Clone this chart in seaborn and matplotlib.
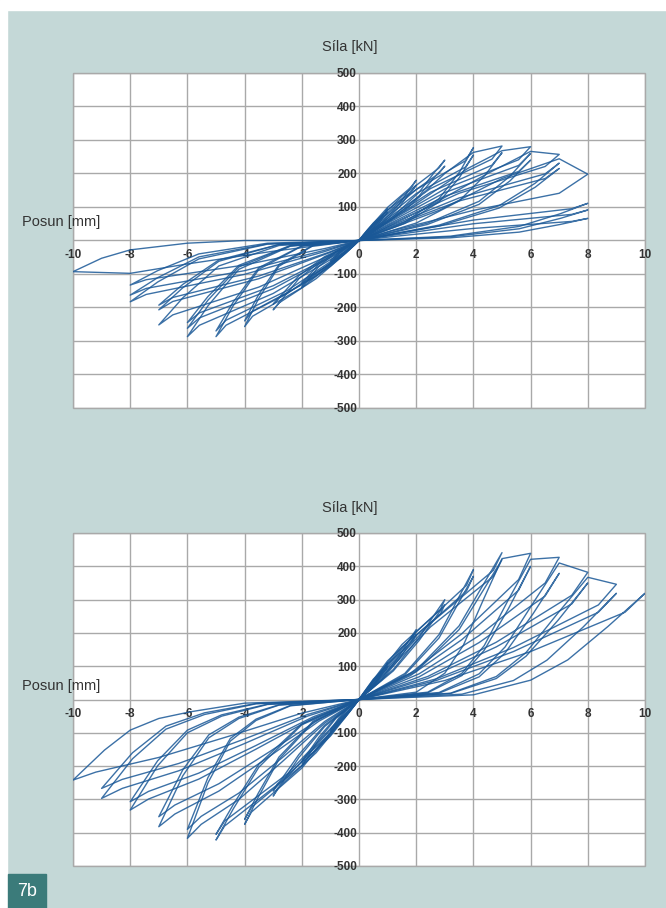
import matplotlib
matplotlib.use("Agg")
import matplotlib.pyplot as plt
from matplotlib.patches import Rectangle
import pandas as pd
import seaborn as sns

# -- data (displacement mm / force kN, one list per loading cycle) -----------

X_TICKS = [-10, -8, -6, -4, -2, 0, 2, 4, 6, 8, 10]
X_LABELS = ["-10", "-8", "-6", "-4", "-2", "0", "2", "4", "6", "8", "10"]
Y_TICKS = [-500, -400, -300, -200, -100, 0, 100, 200, 300, 400, 500]
Y_LABELS = ["-500", "-400", "-300", "-200", "-100", "", "100", "200", "300", "400", "500"]

FORCE_LABEL = "Síla [kN]"
DISP_LABEL = "Posun [mm]"
FIG_TAG = "7b"

TOP_DISP = [
    [0, 0.4, 0.7, 0.88, 1, 0.93, 0.5, 0.15, 0, -0.4, -0.7, -0.88, -1, -0.93, -0.5, -0.15, 0],
    [0, 0.4, 0.7, 0.88, 1, 0.93, 0.5, 0.15, 0, -0.4, -0.7, -0.88, -1, -0.93, -0.5, -0.15, 0],
    [0, 0.8, 1.4, 1.76, 2, 1.86, 1.0, 0.3, 0, -0.8, -1.4, -1.76, -2, -1.86, -1.0, -0.3, 0],
    [0, 0.8, 1.4, 1.76, 2, 1.86, 1.0, 0.3, 0, -0.8, -1.4, -1.76, -2, -1.86, -1.0, -0.3, 0],
    [0, 1.2, 2.1, 2.64, 3, 2.79, 1.5, 0.45, 0, -1.2, -2.1, -2.64, -3, -2.79, -1.5, -0.45, 0],
    [0, 1.2, 2.1, 2.64, 3, 2.79, 1.5, 0.45, 0, -1.2, -2.1, -2.64, -3, -2.79, -1.5, -0.45, 0],
    [0, 1.6, 2.8, 3.52, 4, 3.72, 2.0, 0.6, 0, -1.6, -2.8, -3.52, -4, -3.72, -2.0, -0.6, 0],
    [0, 1.6, 2.8, 3.52, 4, 3.72, 2.0, 0.6, 0, -1.6, -2.8, -3.52, -4, -3.72, -2.0, -0.6, 0],
    [0, 1.6, 3.0, 4.0, 5, 4.65, 2.5, 0.75, 0, -2.0, -3.5, -4.4, -5, -4.65, -2.5, -0.75, 0],
    [0, 2.0, 3.5, 4.4, 5, 4.65, 2.5, 0.75, 0, -2.0, -3.5, -4.4, -5, -4.65, -2.5, -0.75, 0],
    [0, 2.0, 3.8, 5.0, 6, 5.58, 3.0, 0.9, 0, -2.4, -4.2, -5.28, -6, -5.58, -3.0, -0.9, 0],
    [0, 2.4, 4.2, 5.28, 6, 5.58, 3.0, 0.9, 0, -2.4, -4.2, -5.28, -6, -5.58, -3.0, -0.9, 0],
    [0, 2.4, 4.2, 5.28, 6, 5.58, 3.0, 0.9, 0, -2.4, -4.2, -5.28, -6, -5.58, -3.0, -0.9, 0],
    [0, 2.4, 4.5, 6.0, 7, 6.51, 3.5, 1.05, 0, -2.8, -4.9, -6.16, -7, -6.51, -3.5, -1.05, 0],
    [0, 2.8, 4.9, 6.16, 7, 6.51, 3.5, 1.05, 0, -2.8, -4.9, -6.16, -7, -6.51, -3.5, -1.05, 0],
    [0, 2.8, 4.9, 6.16, 7, 6.51, 3.5, 1.05, 0, -2.8, -4.9, -6.16, -7, -6.51, -3.5, -1.05, 0],
    [0, 2.8, 5.0, 7.0, 8, 7.0, 4.0, 1.2, 0, -3.2, -5.6, -7.04, -8, -7.44, -4.0, -1.2, 0],
    [0, 3.2, 5.6, 7.04, 8, 7.44, 4.0, 1.2, 0, -3.2, -5.6, -7.04, -8, -7.44, -4.0, -1.2, 0],
    [0, 3.2, 5.6, 7.04, 8, 7.44, 4.0, 1.2, 0, -3.2, -5.6, -7.04, -8, -7.44, -4.0, -1.2, 0],
    [0, 3.2, 5.6, 7.04, 8, 7.44, 4.0, 1.2, 0, -4, -6, -8, -9, -10, -8, -6, -3, 0],
]
TOP_FORCE = [
    [0, 29, 57, 81, 95, 86, 52, 17, 0, -18, -39, -57, -70, -63, -39, -13, 0],
    [0, 26, 51, 72, 85, 77, 47, 15, 0, -16, -34, -51, -62, -56, -34, -11, 0],
    [0, 54, 108, 153, 180, 162, 99, 32, 0, -35, -77, -115, -140, -126, -77, -25, 0],
    [0, 50, 99, 140, 165, 149, 91, 30, 0, -32, -70, -105, -128, -115, -70, -23, 0],
    [0, 72, 144, 204, 240, 216, 132, 43, 0, -52, -114, -170, -207, -186, -114, -37, 0],
    [0, 67, 133, 189, 222, 200, 122, 40, 0, -48, -105, -156, -190, -171, -105, -34, 0],
    [0, 55, 125, 205, 277, 238, 152, 50, 0, -15, -77, -175, -257, -226, -141, -46, 0],
    [0, 51, 115, 189, 255, 219, 140, 46, 0, -14, -72, -163, -240, -211, -132, -43, 0],
    [0, 90, 200, 263, 282, 243, 155, 51, 0, -17, -86, -195, -287, -253, -158, -52, 0],
    [0, 52, 118, 194, 262, 225, 144, 47, 0, -16, -81, -184, -270, -238, -149, -49, 0],
    [0, 110, 215, 268, 280, 241, 154, 50, 0, -17, -86, -195, -287, -253, -158, -52, 0],
    [0, 52, 117, 192, 260, 224, 143, 47, 0, -16, -79, -178, -262, -231, -144, -47, 0],
    [0, 48, 108, 178, 240, 206, 132, 43, 0, -15, -74, -167, -245, -216, -135, -44, 0],
    [0, 100, 200, 266, 257, 221, 141, 46, 0, -15, -76, -171, -252, -222, -139, -45, 0],
    [0, 46, 104, 171, 231, 199, 127, 42, 0, -12, -62, -141, -207, -182, -114, -37, 0],
    [0, 43, 97, 159, 215, 185, 118, 39, 0, -12, -58, -131, -193, -170, -106, -35, 0],
    [0, 90, 185, 244, 198, 141, 90, 30, 0, -11, -55, -124, -183, -161, -101, -33, 0],
    [0, 13, 42, 80, 111, 95, 61, 20, 0, -10, -49, -111, -163, -143, -90, -29, 0],
    [0, 11, 35, 66, 91, 78, 50, 16, 0, -8, -40, -90, -133, -117, -73, -24, 0],
    [0, 8, 25, 48, 66, 57, 36, 12, 0, 0, -8, -28, -53, -93, -98, -70, -32, 0],
]

BOTTOM_DISP = [
    [0, 0.4, 0.7, 0.88, 1, 0.95, 0.5, 0.15, 0, -0.4, -0.7, -0.88, -1, -0.95, -0.5, -0.15, 0],
    [0, 0.4, 0.7, 0.88, 1, 0.95, 0.5, 0.15, 0, -0.4, -0.7, -0.88, -1, -0.95, -0.5, -0.15, 0],
    [0, 0.8, 1.4, 1.76, 2, 1.9, 1.0, 0.3, 0, -0.8, -1.4, -1.76, -2, -1.9, -1.0, -0.3, 0],
    [0, 0.8, 1.4, 1.76, 2, 1.9, 1.0, 0.3, 0, -0.8, -1.4, -1.76, -2, -1.9, -1.0, -0.3, 0],
    [0, 1.2, 2.1, 2.64, 3, 2.85, 1.5, 0.45, 0, -1.2, -2.1, -2.64, -3, -2.85, -1.5, -0.45, 0],
    [0, 1.2, 2.1, 2.64, 3, 2.85, 1.5, 0.45, 0, -1.2, -2.1, -2.64, -3, -2.85, -1.5, -0.45, 0],
    [0, 1.6, 2.8, 3.52, 4, 3.76, 2.0, 0.6, 0, -1.6, -2.8, -3.52, -4, -3.76, -2.0, -0.6, 0],
    [0, 1.6, 2.8, 3.52, 4, 3.76, 2.0, 0.6, 0, -1.6, -2.8, -3.52, -4, -3.76, -2.0, -0.6, 0],
    [0, 2.0, 3.5, 4.4, 5, 4.7, 2.5, 0.75, 0, -2.0, -3.5, -4.4, -5, -4.7, -2.5, -0.75, 0],
    [0, 2.0, 3.5, 4.4, 5, 4.7, 2.5, 0.75, 0, -2.0, -3.5, -4.4, -5, -4.7, -2.5, -0.75, 0],
    [0, 2.0, 3.0, 3.65, 4.35, 5, 6, 5.58, 3.6, 1.8, 0, -2.4, -3.6, -4.5, -5.28, -6, -5.52, -4.2, -2.7, -1.2, 0],
    [0, 2.4, 3.6, 4.38, 5.22, 6, 5.58, 3.6, 1.8, 0, -2.4, -3.6, -4.5, -5.28, -6, -5.52, -4.2, -2.7, -1.2, 0],
    [0, 2.4, 3.6, 4.38, 5.22, 6, 7, 6.51, 4.2, 2.1, 0, -2.8, -4.2, -5.25, -6.16, -7, -6.44, -4.9, -3.15, -1.4, 0],
    [0, 2.8, 4.2, 5.11, 6.09, 7, 6.51, 4.2, 2.1, 0, -2.8, -4.2, -5.25, -6.16, -7, -6.44, -4.9, -3.15, -1.4, 0],
    [0, 2.8, 4.2, 5.11, 6.09, 7, 8, 7.44, 4.8, 2.4, 0, -3.2, -4.8, -6.0, -7.04, -8, -7.36, -5.6, -3.6, -1.6, 0],
    [0, 3.2, 4.8, 5.84, 6.96, 8, 7.44, 4.8, 2.4, 0, -3.2, -4.8, -6.0, -7.04, -8, -7.36, -5.6, -3.6, -1.6, 0],
    [0, 3.2, 4.8, 5.84, 6.96, 8, 9, 8.37, 5.4, 2.7, 0, -3.6, -5.4, -6.75, -7.92, -9, -8.28, -6.3, -4.05, -1.8, 0],
    [0, 3.6, 5.4, 6.57, 7.83, 9, 8.37, 5.4, 2.7, 0, -3.6, -5.4, -6.75, -7.92, -9, -8.28, -6.3, -4.05, -1.8, 0],
    [0, 4.0, 6.0, 7.3, 8.7, 10, 9.3, 6.0, 3.0, 0, -4, -5.9, -7, -8, -8.9, -10, -9.2, -7, -4.5, -2, 0],
]
BOTTOM_FORCE = [
    [0, 33, 68, 94, 110, 99, 61, 19, 0, -28, -60, -84, -100, -92, -55, -17, 0],
    [0, 30, 62, 85, 100, 90, 55, 17, 0, -26, -55, -77, -92, -85, -51, -16, 0],
    [0, 63, 130, 179, 210, 189, 116, 36, 0, -56, -120, -168, -200, -184, -110, -34, 0],
    [0, 59, 121, 166, 195, 176, 107, 33, 0, -53, -113, -158, -188, -173, -103, -32, 0],
    [0, 90, 186, 255, 300, 270, 165, 51, 0, -81, -174, -244, -290, -267, -160, -49, 0],
    [0, 86, 177, 242, 285, 257, 157, 48, 0, -77, -165, -231, -275, -253, -151, -47, 0],
    [0, 78, 195, 312, 390, 343, 203, 59, 0, -68, -180, -293, -375, -338, -206, -60, 0],
    [0, 74, 185, 296, 370, 326, 192, 56, 0, -65, -173, -281, -360, -324, -198, -58, 0],
    [0, 88, 221, 353, 441, 388, 229, 66, 0, -76, -203, -329, -422, -380, -232, -68, 0],
    [0, 84, 210, 336, 420, 370, 218, 63, 0, -73, -194, -316, -405, -365, -223, -65, 0],
    [0, 22, 79, 163, 300, 423, 439, 360, 198, 79, 0, -19, -63, -125, -250, -417, -375, -300, -188, -71, 0],
    [0, 20, 72, 148, 272, 400, 328, 180, 72, 0, -18, -59, -117, -234, -390, -351, -281, -176, -66, 0],
    [0, 22, 79, 162, 299, 421, 427, 350, 192, 77, 0, -17, -57, -115, -229, -382, -344, -275, -172, -65, 0],
    [0, 19, 68, 140, 258, 379, 311, 171, 68, 0, -16, -53, -106, -211, -352, -317, -253, -158, -60, 0],
    [0, 21, 77, 158, 290, 410, 382, 313, 172, 69, 0, -15, -50, -100, -199, -332, -299, -239, -149, -56, 0],
    [0, 18, 63, 130, 238, 350, 287, 158, 63, 0, -14, -46, -92, -184, -307, -276, -221, -138, -52, 0],
    [0, 19, 69, 141, 260, 367, 346, 284, 156, 62, 0, -13, -45, -89, -178, -297, -267, -214, -134, -50, 0],
    [0, 16, 57, 118, 217, 319, 262, 144, 57, 0, -12, -40, -80, -160, -267, -240, -192, -120, -45, 0],
    [0, 14, 58, 119, 219, 319, 262, 144, 57, 0, -11, -37, -57, -92, -152, -242, -218, -174, -109, -41, 0],
]

# -- style -------------------------------------------------------------------

BG = "#c4d8d7"
TAG_BG = "#3b7b7a"
GRID = "#a9a9a9"
LINE = "#1a5897"
TEXT = "#333333"

W, H = 666, 908


def to_frame(disp, force):
    rows = []
    for i, (xs, ys) in enumerate(zip(disp, force)):
        for x, y in zip(xs, ys):
            rows.append((i, x, y))
    return pd.DataFrame(rows, columns=["cycle", "disp", "force"])


def draw_panel(ax, disp, force):
    df = to_frame(disp, force)
    sns.lineplot(
        data=df,
        x="disp",
        y="force",
        units="cycle",
        estimator=None,
        sort=False,
        color=LINE,
        linewidth=1.0,
        alpha=0.85,
        legend=False,
        ax=ax,
    )
    ax.set_xlim(-10, 10)
    ax.set_ylim(-500, 500)
    ax.set_xticks(X_TICKS)
    ax.set_xticklabels(X_LABELS)
    ax.set_yticks(Y_TICKS)
    ax.set_yticklabels(Y_LABELS)
    for sp in ax.spines.values():
        sp.set_visible(False)
    ax.spines["bottom"].set_position(("data", 0))
    ax.spines["left"].set_position(("data", 0))
    ax.set_facecolor("white")
    ax.patch.set_edgecolor(GRID)
    ax.patch.set_linewidth(1.0)
    ax.grid(True, color=GRID, linewidth=1.0)
    ax.set_axisbelow(True)
    ax.tick_params(length=0, labelsize=8.5, labelcolor=TEXT)
    ax.tick_params(axis="x", pad=6)
    ax.tick_params(axis="y", pad=1.5)
    for lab in ax.get_xticklabels() + ax.get_yticklabels():
        lab.set_fontweight("bold")
    ax.set_xlabel("")
    ax.set_ylabel("")


def main():
    sns.set_theme(style="white")
    plt.rcParams["font.family"] = ["Liberation Sans", "DejaVu Sans"]

    fig = plt.figure(figsize=(W / 100, H / 100), dpi=100)
    fig.patch.set_facecolor(BG)

    # white page margins (top and left) and the figure tag box
    fig.add_artist(Rectangle((0, 1 - 10 / H), 1, 10 / H, transform=fig.transFigure,
                             color="white", zorder=-1))
    fig.add_artist(Rectangle((0, 0), 7 / W, 1, transform=fig.transFigure,
                             color="white", zorder=-1))
    fig.add_artist(Rectangle((8 / W, 0), 38 / W, 34 / H, transform=fig.transFigure,
                             color=TAG_BG, zorder=1))
    fig.text(27 / W, 17 / H, FIG_TAG, color="white", fontsize=13,
             ha="center", va="center")

    ax_top = fig.add_axes([73 / W, 1 - 408 / H, 572 / W, 335 / H])
    ax_bot = fig.add_axes([73 / W, 1 - 866 / H, 572 / W, 333 / H])
    draw_panel(ax_top, TOP_DISP, TOP_FORCE)
    draw_panel(ax_bot, BOTTOM_DISP, BOTTOM_FORCE)

    for y_force, y_disp in [(47, 222), (508, 686)]:
        fig.text(350 / W, 1 - y_force / H, FORCE_LABEL, color=TEXT, fontsize=10.5,
                 ha="center", va="center")
        fig.text(22 / W, 1 - y_disp / H, DISP_LABEL, color=TEXT, fontsize=10.5,
                 ha="left", va="center")

    fig.savefig("out.png", dpi=100, facecolor=fig.get_facecolor())
    plt.close(fig)


if __name__ == "__main__":
    main()
